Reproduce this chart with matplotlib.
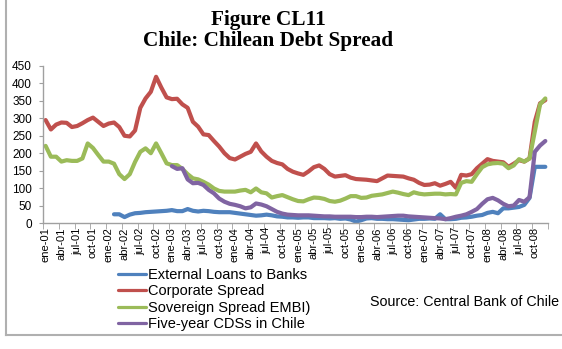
import numpy as np
import matplotlib
matplotlib.use('Agg')
import matplotlib.pyplot as plt

nan = np.nan

# monthly observations, ene-01 .. dic-08
month_abbr = ['ene', 'abr', 'jul', 'oct']
years = range(1, 9)
tick_labels = [f'{m}-{y:02d}' for y in years for m in month_abbr]

external_loans = [nan] * 13 + [
	25, 25, 17, 24, 28, 29, 31, 32, 33, 34, 35,
	37, 34, 34, 40, 35, 33, 35, 34, 32, 31, 31, 31,
	29, 27, 25, 23, 21, 22, 24, 22, 19, 18, 16, 16,
	15, 16, 16, 14, 14, 14, 13, 14, 12, 13, 10, 4,
	8, 13, 14, 12, 12, 11, 11, 10, 9, 8, 10, 12,
	12, 13, 12, 25, 11, 11, 12, 15, 16, 18, 21, 23,
	29, 32, 28, 42, 42, 44, 46, 52, 72, 161, 161, 161,
]
corporate = [
	295, 268, 282, 288, 287, 275, 278, 286, 295, 302, 290, 278,
	285, 288, 275, 250, 248, 265, 330, 357, 376, 419, 388, 360,
	355, 356, 340, 330, 290, 276, 254, 252, 235, 219, 200, 186,
	182, 190, 198, 204, 228, 205, 190, 178, 172, 168, 155, 147,
	142, 138, 148, 160, 165, 155, 140, 133, 135, 137, 130, 126,
	125, 124, 122, 120, 128, 136, 135, 134, 133, 128, 124, 115,
	109, 110, 114, 107, 112, 118, 101, 138, 136, 140, 157, 170,
	183, 178, 176, 174, 161, 170, 180, 176, 185, 290, 343, 352,
]
sovereign = [
	221, 190, 190, 176, 180, 178, 178, 185, 228, 215, 195, 176,
	176, 170, 140, 126, 140, 175, 204, 214, 200, 228, 200, 171,
	166, 166, 155, 140, 128, 125, 118, 110, 99, 92, 90, 90,
	90, 93, 95, 88, 99, 88, 85, 73, 77, 80, 74, 68,
	63, 62, 68, 73, 72, 69, 63, 61, 64, 70, 77, 77,
	72, 73, 78, 80, 82, 86, 90, 87, 83, 80, 88, 84,
	82, 83, 84, 84, 82, 83, 82, 115, 120, 118, 140, 160,
	168, 171, 172, 170, 157, 165, 183, 176, 185, 262, 340, 357,
]
cds_5y = [nan] * 24 + [
	163, 155, 157, 125, 114, 115, 109, 95, 85, 70, 61, 55,
	52, 48, 42, 45, 56, 53, 48, 40, 32, 27, 24, 23,
	22, 22, 22, 21, 20, 19, 19, 18, 18, 18, 18, 17,
	17, 18, 18, 17, 18, 19, 20, 21, 21, 19, 18, 17,
	16, 15, 14, 13, 11, 14, 18, 21, 25, 32, 40, 55,
	68, 72, 65, 55, 48, 50, 66, 61, 74, 204, 222, 235,
]

series = [
	('External Loans to Banks', external_loans, '#4f81bd'),
	('Corporate Spread', corporate, '#c0504d'),
	('Sovereign Spread EMBI)', sovereign, '#9bbb59'),
	('Five-year CDSs in Chile', cds_5y, '#8064a2'),
]

plt.rcParams['font.family'] = ['Liberation Sans', 'DejaVu Sans']
axis_grey = '#a0a0a0'

fig = plt.figure(figsize=(5.62, 3.49), dpi=100)
ax = fig.add_axes([0.0765, 0.361, 0.8985, 0.450])

x = np.arange(96)
for name, vals, col in series:
	ax.plot(x, np.array(vals, dtype=float), color=col, lw=3.0, label=name,
		solid_capstyle='round', solid_joinstyle='round')

ax.set_xlim(-0.5, 95.5)
ax.set_ylim(0, 450)
ax.set_yticks(np.arange(0, 451, 50))
ax.set_xticks(np.arange(0, 96, 3))
ax.set_xticklabels(tick_labels, rotation=90, fontsize=8)
ax.set_xticks(np.arange(-0.5, 96, 3), minor=True)
ax.tick_params(axis='x', which='major', length=0, pad=3)
ax.tick_params(axis='x', which='minor', length=4, color=axis_grey)
ax.tick_params(axis='y', length=3, color=axis_grey, labelsize=8.5, pad=5)

for side in ('top', 'right'):
	ax.spines[side].set_visible(False)
for side in ('left', 'bottom'):
	ax.spines[side].set_color(axis_grey)
	ax.spines[side].set_linewidth(1.0)

fig.text(0.477, 1 - 20.5 / 349, 'Figure CL11', ha='center', va='center',
	fontsize=15.3, fontweight='bold', family='Liberation Serif')
fig.text(0.477, 1 - 41 / 349, 'Chile: Chilean Debt Spread', ha='center', va='center',
	fontsize=15.3, fontweight='bold', family='Liberation Serif')

leg = ax.legend(loc='upper left', bbox_to_anchor=(118 / 562, 1 - 268 / 349),
	bbox_transform=fig.transFigure, frameon=False, fontsize=10.5,
	handlelength=1.9, handletextpad=0.15, labelspacing=0.17,
	borderpad=0, borderaxespad=0)
for h in leg.get_lines():
	h.set_linewidth(2.3)

fig.text(370 / 562, 1 - 302 / 349, 'Source: Central Bank of Chile',
	ha='left', va='center', fontsize=10.3)

# outer frame on the left and bottom edges
fig.add_artist(plt.Line2D([6 / 562, 6 / 562], [1 - 335 / 349, 1.0],
	transform=fig.transFigure, color='#b0b0b0', lw=1.5))
fig.add_artist(plt.Line2D([6 / 562, 1.0], [1 - 335 / 349, 1 - 335 / 349],
	transform=fig.transFigure, color='#b0b0b0', lw=1.5))

fig.savefig('out.png', dpi=100)
